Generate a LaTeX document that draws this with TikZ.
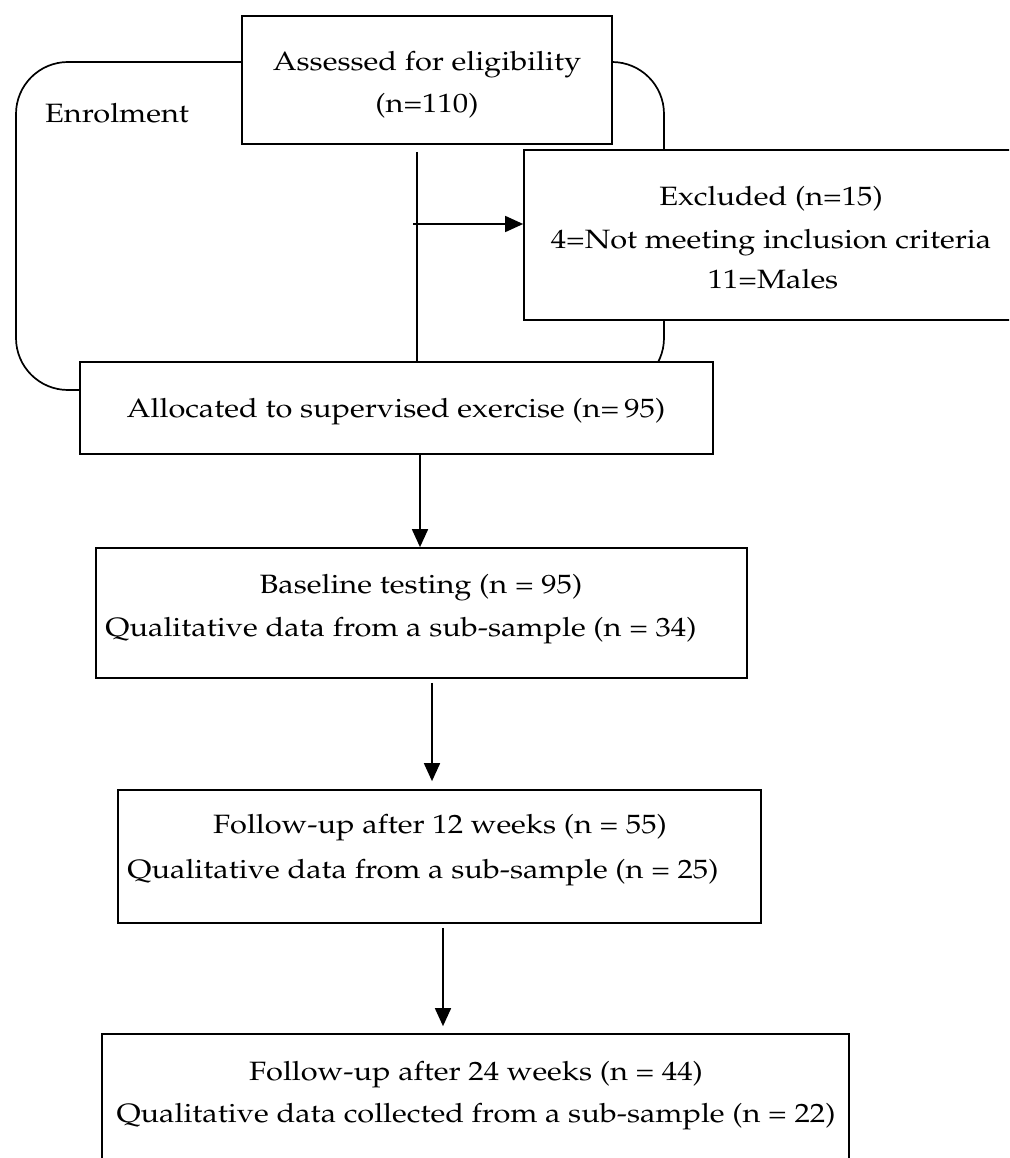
\documentclass[tikz,border=0pt]{standalone}
\usepackage[T1]{fontenc}
\usepackage{mathpazo}
\usepackage{graphicx}
\usetikzlibrary{arrows.meta,calc}
\newcommand{\wtxt}[1]{\scalebox{1.16}[1]{#1}}
\begin{document}
\begin{tikzpicture}[x=1pt,y=-1pt,
  box/.style={draw, line width=1.7pt, fill=white, inner sep=0pt},
  txt/.style={anchor=base, inner sep=0pt, font=\fontsize{26.5}{32}\selectfont},
  conn/.style={line width=1.7pt},
  arr/.style={conn, -{Triangle[length=18pt,width=16pt]}}]
\useasboundingbox (0,0) rectangle (1009,1158);
\clip (0,0) rectangle (1009,1158);
% enrolment frame
\draw[conn, rounded corners=52pt] (16,62) rectangle (664,390);
\node[txt, anchor=base west] (enr) at (45,123) {\wtxt{Enrolment}};
% boxes
\node[box, minimum width=370pt, minimum height=128pt] (b1) at (427,80) {};
\node[box, minimum width=494pt, minimum height=170pt] (excl) at (771,235) {};
\node[box, minimum width=633pt, minimum height=92pt] (alloc) at (396.5,408) {};
\node[box, minimum width=651pt, minimum height=130pt] (base) at (421.5,613) {};
\node[box, minimum width=643pt, minimum height=133pt] (b12) at (439.5,856.5) {};
\node[box, minimum width=747pt, minimum height=146pt] (b24) at (475.5,1107) {};
% texts
\node[txt] (b1a) at (427,71) {\wtxt{Assessed for eligibility}};
\node[txt] (b1b) at (427,113) {\wtxt{(n=110)}};
\node[txt] (exa) at (771,206) {\wtxt{Excluded (n=15)}};
\node[txt] (exb) at (771,248) {\wtxt{4=Not meeting inclusion criteria}};
\node[txt] (exc) at (773,288) {\wtxt{11=Males}};
\node[txt] (ala) at (396,417) {\wtxt{Allocated to supervised exercise (n=\,95)}};
\node[txt] (baa) at (421,593) {\wtxt{Baseline testing (n = 95)}};
\node[txt] (bab) at (401,636) {\wtxt{Qualitative data from a sub-sample (n = 34)}};
\node[txt] (fua) at (440,833) {\wtxt{Follow-up after 12 weeks (n = 55)}};
\node[txt] (fub) at (423,878) {\wtxt{Qualitative data from a sub-sample (n = 25)}};
\node[txt] (fva) at (476,1080) {\wtxt{Follow-up after 24 weeks (n = 44)}};
\node[txt] (fvb) at (476,1122) {\wtxt{Qualitative data collected from a sub-sample (n = 22)}};
% connectors
\coordinate (s1) at ($(417,0 |- b1.south)+(0,7)$);
\draw[conn] (s1) -- (s1 |- alloc.north);
\coordinate (j1) at (413,224);
\draw[arr] (j1) -- (j1 -| excl.west);
\draw[arr] (420,0 |- alloc.south) -- (420,0 |- base.north);
\draw[arr] ($(432,0 |- base.south)+(0,4)$) -- ($(432,0 |- b12.north)+(0,-8)$);
\draw[arr] ($(443,0 |- b12.south)+(0,4)$) -- ($(443,0 |- b24.north)+(0,-7)$);
\end{tikzpicture}
\end{document}
